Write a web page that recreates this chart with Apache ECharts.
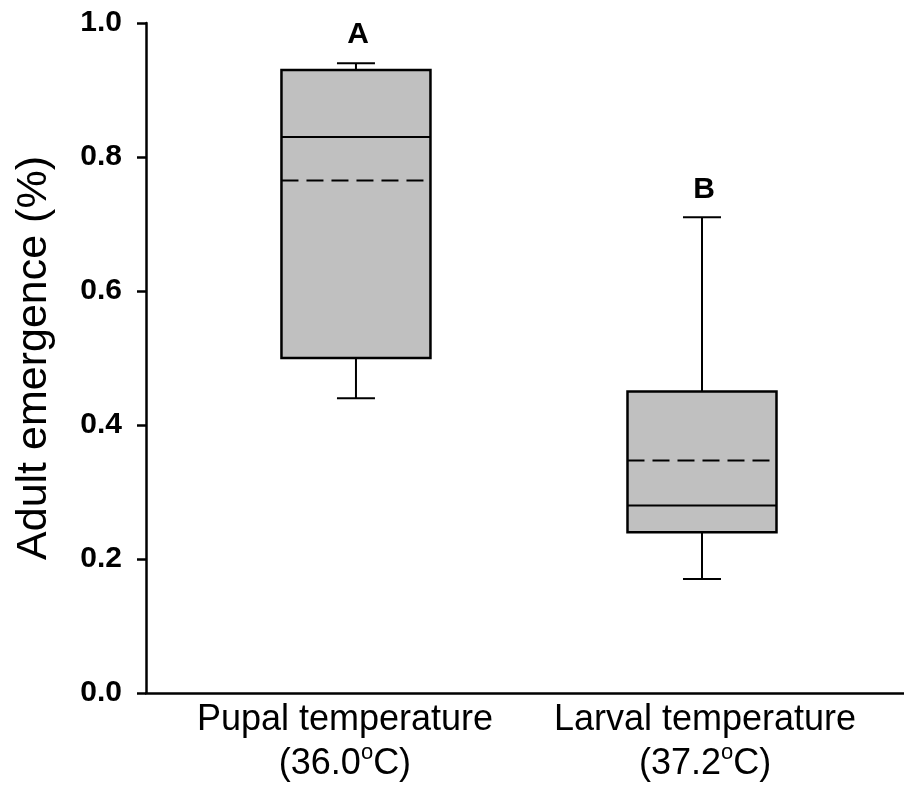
<!DOCTYPE html>
<html>
<head>
<meta charset="utf-8">
<script src="https://cdn.jsdelivr.net/npm/echarts@6/dist/echarts.min.js"></script>
<style>
  html, body { margin: 0; padding: 0; background: #fff; }
  #chart { width: 904px; height: 787px; }
</style>
</head>
<body>
<div id="chart"></div>
<script>
// groups and box statistics (adult emergence, proportion)
const categories = ["Pupal temperature\n(36.0{sup|o}C)", "Larval temperature\n(37.2{sup|o}C)"];
const mins = [0.44, 0.17];
const q1s = [0.50, 0.24];
const medians = [0.83, 0.28];
const q3s = [0.93, 0.45];
const maxs = [0.94, 0.71];
const means = [0.765, 0.347];
const letters = ["A", "B"];
const yTicks = [0, 0.2, 0.4, 0.6, 0.8, 1.0];

// where the boxes and the group labels sit along the x axis (0..1)
const boxX = [0.277, 0.7335];
const labelX = [0.2625, 0.7375];

const FONT = "'Liberation Sans', Arial, Helvetica, sans-serif";

const chart = echarts.init(document.getElementById("chart"));

let rows = [];
for (let i = 0; i < categories.length; i++) {
  rows.push([boxX[i], mins[i], q1s[i], medians[i], q3s[i], maxs[i], means[i], i]);
}

function renderBox(params, api) {
  const x = api.value(0);
  const pMin = api.coord([x, api.value(1)]);
  const pQ1 = api.coord([x, api.value(2)]);
  const pMed = api.coord([x, api.value(3)]);
  const pQ3 = api.coord([x, api.value(4)]);
  const pMax = api.coord([x, api.value(5)]);
  const pMean = api.coord([x, api.value(6)]);
  const idx = api.value(7);
  const cx = pMed[0];
  const hw = 74.5; // half box width
  const cw = 19; // half cap width
  const line = { stroke: "#000", lineWidth: 2 };
  return {
    type: "group",
    children: [
      // whiskers
      { type: "line", shape: { x1: cx, y1: pQ3[1], x2: cx, y2: pMax[1] }, style: line },
      { type: "line", shape: { x1: cx - cw, y1: pMax[1], x2: cx + cw, y2: pMax[1] }, style: line },
      { type: "line", shape: { x1: cx, y1: pQ1[1], x2: cx, y2: pMin[1] }, style: line },
      { type: "line", shape: { x1: cx - cw, y1: pMin[1], x2: cx + cw, y2: pMin[1] }, style: line },
      // box
      {
        type: "rect",
        shape: { x: cx - hw, y: pQ3[1], width: hw * 2, height: pQ1[1] - pQ3[1] },
        style: { fill: "#c0c0c0", stroke: "#000", lineWidth: 2.5 }
      },
      // median
      { type: "line", shape: { x1: cx - hw, y1: pMed[1], x2: cx + hw, y2: pMed[1] }, style: line },
      // mean (dashed)
      {
        type: "line",
        shape: { x1: cx - hw, y1: pMean[1], x2: cx + hw, y2: pMean[1] },
        style: { stroke: "#000", lineWidth: 2, lineDash: [17, 8] }
      },
      // significance letter
      {
        type: "text",
        x: cx + 2,
        y: pMax[1] - 13,
        style: {
          text: letters[idx],
          font: "bold 30px " + FONT,
          fill: "#000",
          align: "center",
          verticalAlign: "bottom"
        }
      }
    ]
  };
}

let option = {
  backgroundColor: "#fff",
  animation: false,
  grid: {
    left: 146,
    right: 0,
    top: 23,
    bottom: 94,
    containLabel: false
  },
  xAxis: {
    type: "value",
    min: 0,
    max: 1,
    splitLine: { show: false },
    axisLine: { show: true, onZero: false, lineStyle: { color: "#000", width: 2.5 } },
    axisTick: { show: false },
    axisLabel: {
      customValues: labelX,
      margin: 5,
      color: "#000",
      fontFamily: FONT,
      fontSize: 36,
      lineHeight: 44,
      formatter: function (v) {
        let i = labelX.indexOf(v);
        return i >= 0 ? categories[i] : "";
      },
      rich: {
        sup: {
          fontFamily: FONT,
          fontSize: 22,
          color: "#000",
          verticalAlign: "top",
          padding: [0, 0, 14, 0]
        }
      }
    }
  },
  yAxis: {
    type: "value",
    min: 0,
    max: 1,
    interval: 0.2,
    name: "Adult emergence (%)",
    nameLocation: "middle",
    nameGap: 90,
    nameTextStyle: { color: "#000", fontFamily: FONT, fontSize: 43 },
    splitLine: { show: false },
    axisLine: { show: true, lineStyle: { color: "#000", width: 2.5 } },
    axisTick: { show: true, length: 9, lineStyle: { color: "#000", width: 2.5 } },
    axisLabel: {
      margin: 24,
      color: "#000",
      fontFamily: FONT,
      fontWeight: "bold",
      fontSize: 30,
      formatter: function (v) {
        return yTicks.indexOf(+v.toFixed(1)) >= 0 ? v.toFixed(1) : "";
      }
    }
  },
  series: [
    {
      type: "custom",
      renderItem: renderBox,
      clip: false,
      encode: { x: 0, y: [1, 2, 3, 4, 5] },
      data: rows
    }
  ]
};

chart.setOption(option);
window.addEventListener("resize", () => chart.resize(), false);
</script>
</body>
</html>
